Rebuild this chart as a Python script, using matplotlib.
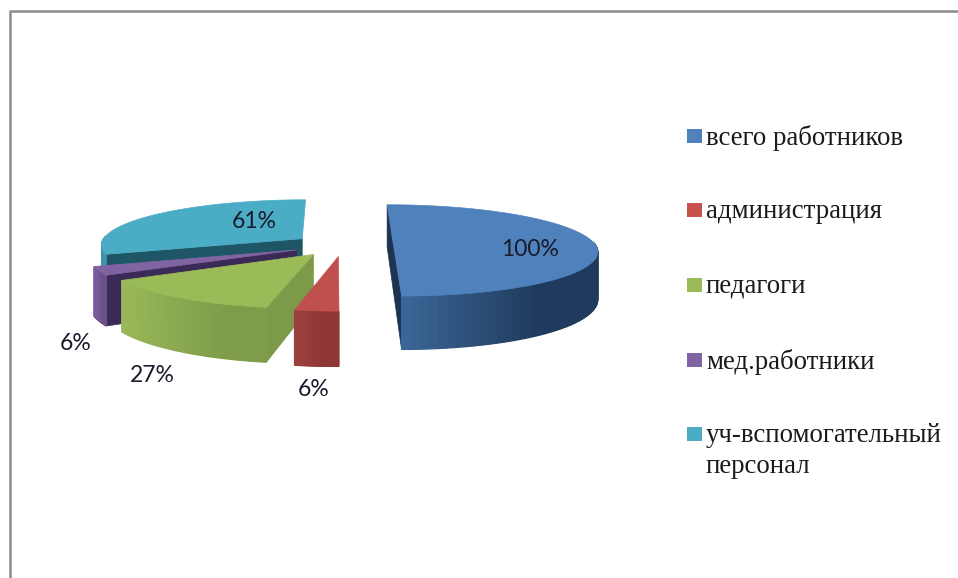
import numpy as np
import matplotlib
matplotlib.use("Agg")
import matplotlib.pyplot as plt
from matplotlib.colors import to_rgb
from matplotlib.patches import Polygon, Rectangle

labels = ["всего работников", "администрация", "педагоги", "мед.работники", "уч-вспомогательный\nперсонал"]
values = [100, 6, 27, 6, 61]
value_labels = ["100%", "6%", "27%", "6%", "61%"]

top_colors = ["#4f81bd", "#c0504d", "#9bbb59", "#8064a2", "#4bacc6"]
legend_colors = ["#4f81bd", "#c8504d", "#9bbb59", "#8064a2", "#4bacc6"]
wall_left = ["#3f6b9f", "#9c403e", "#99b858", "#7a5c9c", "#3f93aa"]
wall_right = ["#1f3a5c", "#8e3734", "#7f9c4a", "#6a4f88", "#3f93aa"]
cut_colors = ["#1d3350", "#7a2f2d", "#7d9a4a", "#3b2a56", "#1f5666"]

# pie geometry in pixels
cx, cy = 343, 245
rx, ry = 202, 45
depth = 47
explode = 0.25
persp = 0.12
first_angle = -0.3


def project(u, v, z=0):
    s = 1 / (1 + persp * v)
    return cx + rx * u * s, cy - ry * v * s + depth * z * s


def mix(c1, c2, t):
    c1, c2 = np.array(to_rgb(c1)), np.array(to_rgb(c2))
    return tuple(c1 + (c2 - c1) * min(t * 1.4, 1))


fig = plt.figure(figsize=(9.58, 5.78), dpi=100)
ax = fig.add_axes([0, 0, 1, 1])
ax.set_xlim(0, 958)
ax.set_ylim(578, 0)
ax.axis("off")

# frame of the chart, only top and left are in the picture
ax.plot([10, 10, 958], [578, 11, 11], color="#8c8c8c", lw=1.8, solid_joinstyle="miter")

angles = first_angle + np.cumsum([0] + values) / sum(values) * 360
order = [4, 3, 2, 1, 0]

for i in order:
    a1, a2 = np.radians(angles[i]), np.radians(angles[i + 1])
    mid = (a1 + a2) / 2
    ou, ov = explode * np.sin(mid), explode * np.cos(mid)
    t = np.linspace(a1, a2, 80)
    us, vs = ou + np.sin(t), ov + np.cos(t)

    # cut faces that look towards the viewer
    for a, visible in [(a1, np.sin(a1) < 0), (a2, np.sin(a2) > 0)]:
        if visible:
            u, v = ou + np.sin(a), ov + np.cos(a)
            quad = [project(ou, ov), project(u, v), project(u, v, 1), project(ou, ov, 1)]
            ax.add_patch(Polygon(quad, closed=True, fc=cut_colors[i], ec=cut_colors[i], lw=0.5))

    # outer wall, shaded strip by strip from left to right
    rim = [project(a, b) for a, b in zip(us, vs)]
    xmin, xmax = min(p[0] for p in rim), max(p[0] for p in rim)
    for k in range(len(t) - 1):
        if np.cos((t[k] + t[k + 1]) / 2) > 0.05:
            continue
        p1, p2 = rim[k], rim[k + 1]
        f = ((p1[0] + p2[0]) / 2 - xmin) / max(xmax - xmin, 1)
        col = mix(wall_left[i], wall_right[i], f)
        quad = [p1, p2, project(us[k + 1], vs[k + 1], 1), project(us[k], vs[k], 1)]
        ax.add_patch(Polygon(quad, closed=True, fc=col, ec=col, lw=0.9))

    # top surface
    ax.add_patch(Polygon([project(ou, ov)] + rim, closed=True, fc=top_colors[i], ec=top_colors[i], lw=0.5))

# data labels
label_x = [530, 314, 152, 76, 254]
label_y = [249, 389, 376, 344, 221]
for s, x, y in zip(value_labels, label_x, label_y):
    ax.text(x, y, s, ha="center", va="center", fontsize=16.5, family="Lato", color="#1a1a2a")

# legend
legend_y = [136, 210, 285, 360, 434]
for lab, col, y in zip(labels, legend_colors, legend_y):
    ax.add_patch(Rectangle((687, y - 7), 15, 14, fc=col, ec="none"))
    ax.text(706, y - 11, lab, ha="left", va="top", fontsize=19.4, family="Liberation Serif",
            color="#1a1a1a", linespacing=1.32)

fig.savefig("out.png", dpi=100)
